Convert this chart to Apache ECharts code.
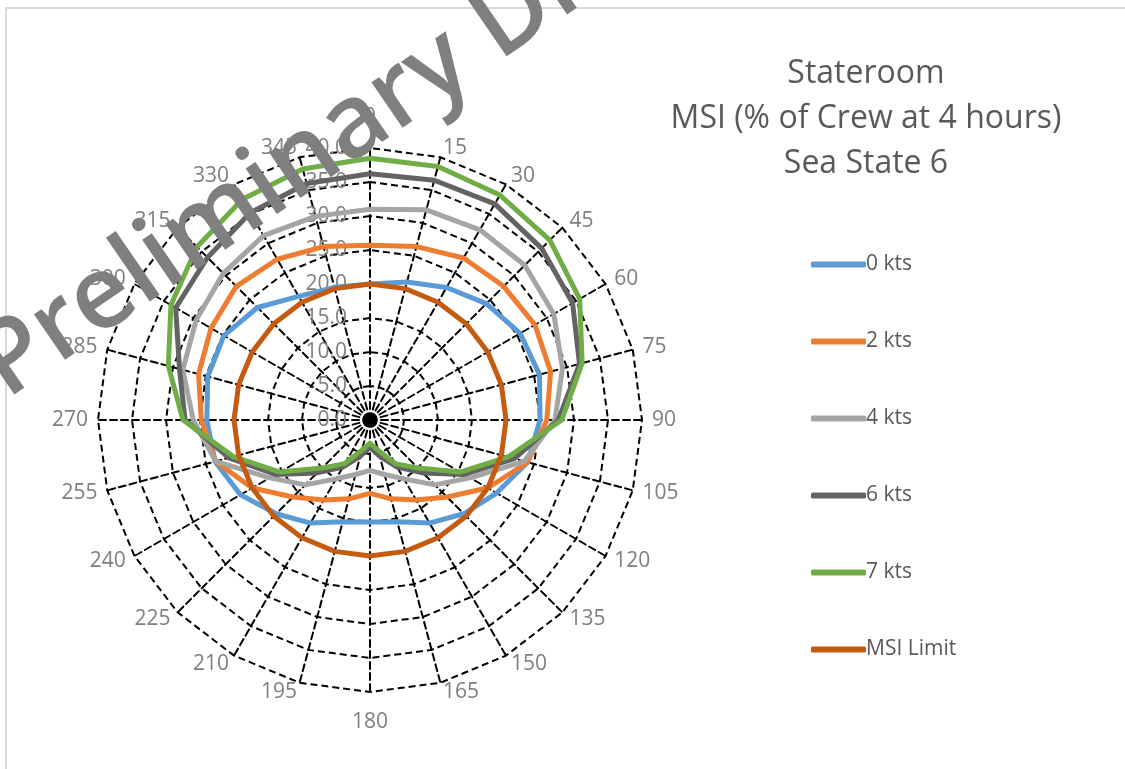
<!DOCTYPE html>
<html>
<head>
<meta charset="utf-8">
<script src="https://cdn.jsdelivr.net/npm/echarts@6/dist/echarts.min.js"></script>
<style>
  html, body { margin: 0; padding: 0; background: #fff; }
  #chart { width: 1125px; height: 769px; }
</style>
</head>
<body>
<div id="chart"></div>
<script>
// Heading (degrees) of each radar spoke, clockwise from the bow
const headings = ['0', '15', '30', '45', '60', '75', '90', '105', '120', '135', '150', '165',
                  '180', '195', '210', '225', '240', '255', '270', '285', '300', '315', '330', '345'];

// MSI (% of crew at 4 hours) per heading, one array per ship speed
const kts0 = [20, 21, 22.5, 24.2, 25.5, 25.8, 25, 24, 21.5, 19.5, 17.5, 15.5,
              15, 15.5, 17.5, 19.5, 22, 23.6, 24, 24.7, 24.8, 23.4, 21, 20.2];
const kts2 = [25.7, 26.4, 27.5, 27.8, 28, 27.5, 26, 24, 20, 16, 13.6, 12,
              10.8, 12, 13.6, 16, 20, 23.5, 24.8, 26.1, 27, 27.8, 27.3, 26.4];
const kts4 = [31, 32, 32.3, 32.2, 31.2, 29.3, 27.2, 23.5, 17, 13.5, 10, 8.3,
              7.4, 8.3, 10, 13.5, 17, 23.5, 26, 28.5, 29.5, 30.5, 31.3, 31];
const kts6 = [36.2, 36.5, 36.7, 35.7, 34.4, 31.9, 27.7, 22, 16, 11, 8, 5.5,
              4, 5.5, 8, 11, 16, 21.5, 27.2, 29, 33, 33.8, 35.2, 36];
const kts7 = [38.5, 38.6, 38.2, 37.4, 35.6, 32.3, 28.2, 21, 15.3, 10, 7.4, 4.6,
              3.4, 4.6, 7.4, 10, 15.3, 20.8, 27.5, 30.7, 33.8, 36, 37.5, 38.2];
const msiLimit = [20, 20, 20, 20, 20, 20, 20, 20, 20, 20, 20, 20,
                  20, 20, 20, 20, 20, 20, 20, 20, 20, 20, 20, 20];

const seriesNames = ['0 kts', '2 kts', '4 kts', '6 kts', '7 kts', 'MSI Limit'];
const seriesValues = [kts0, kts2, kts4, kts6, kts7, msiLimit];
const seriesColors = ['#5B9BD5', '#ED7D31', '#A5A5A5', '#636363', '#70AD47', '#C55A11'];

const AXIS_MIN = 0;
const AXIS_MAX = 40;
const RADAR_CENTER = [370, 420];
const RADAR_RADIUS = 272;

// ECharts lays radar spokes out counter-clockwise; compass headings run clockwise,
// so the spokes are fed in order 0, 345, 330, ... 15.
const order = headings.map((_, i) => (headings.length - i) % headings.length);

const indicators = order.map((idx, k) => {
  const ind = { name: headings[idx], min: AXIS_MIN, max: AXIS_MAX };
  if (k === 0) ind.axisLabel = { show: true };
  return ind;
});

const gridLine = { color: '#000', width: 2, type: [7, 4] };

const chart = echarts.init(document.getElementById('chart'), null, { renderer: 'canvas' });

chart.setOption({
  backgroundColor: '#fff',
  animation: false,
  textStyle: { fontFamily: 'Open Sans' },
  legend: {
    orient: 'vertical',
    left: 806,
    top: 249,
    itemWidth: 55,
    itemHeight: 6,
    itemGap: 56,
    icon: 'roundRect',
    textStyle: { color: '#595959', fontSize: 21, fontFamily: 'Open Sans', padding: [0, 0, 0, -5] },
    data: seriesNames
  },
  radar: {
    center: RADAR_CENTER,
    radius: RADAR_RADIUS,
    startAngle: 90,
    shape: 'polygon',
    splitNumber: 8,
    indicator: indicators,
    axisName: { color: '#7f7f7f', fontSize: 21, fontFamily: 'Open Sans', padding: [10, 0, 10, 0] },
    nameGap: 10,
    axisLine: { show: true, lineStyle: gridLine },
    splitLine: { show: true, lineStyle: gridLine },
    splitArea: { show: false },
    axisTick: { show: false },
    axisLabel: {
      show: false,
      color: '#7f7f7f',
      fontSize: 21,
      fontFamily: 'Open Sans',
      margin: 23,
      formatter: v => Number(v).toFixed(1)
    }
  },
  series: seriesNames.map((name, s) => ({
    type: 'radar',
    name: name,
    symbol: 'none',
    lineStyle: { width: 5, color: seriesColors[s] },
    itemStyle: { color: seriesColors[s] },
    z: 2 + s,
    data: [{ name: name, value: order.map(idx => seriesValues[s][idx]) }]
  })),
  graphic: [
    {
      type: 'rect',
      silent: true,
      shape: { x: 6, y: 8, width: 1130, height: 780 },
      style: { fill: 'none', stroke: '#d9d9d9', lineWidth: 2 },
      z: 0
    },
    {
      type: 'circle',
      silent: true,
      shape: { cx: RADAR_CENTER[0], cy: RADAR_CENTER[1], r: 7 },
      style: { fill: '#000' },
      z: 50
    },
    {
      type: 'text',
      silent: true,
      x: 866,
      y: 119,
      style: {
        text: 'Stateroom\nMSI (% of Crew at 4 hours)\nSea State 6',
        fill: '#595959',
        font: '32px "Open Sans"',
        lineHeight: 45,
        align: 'center',
        verticalAlign: 'middle'
      },
      z: 60
    },
    {
      type: 'text',
      silent: true,
      x: 19,
      y: 418,
      rotation: 34.5 * Math.PI / 180,
      style: {
        text: 'Preliminary Draft',
        fill: '#7f7f7f',
        font: '600 102px "Open Sans"',
        align: 'left',
        verticalAlign: 'bottom'
      },
      z: 100
    }
  ]
});
</script>
</body>
</html>
